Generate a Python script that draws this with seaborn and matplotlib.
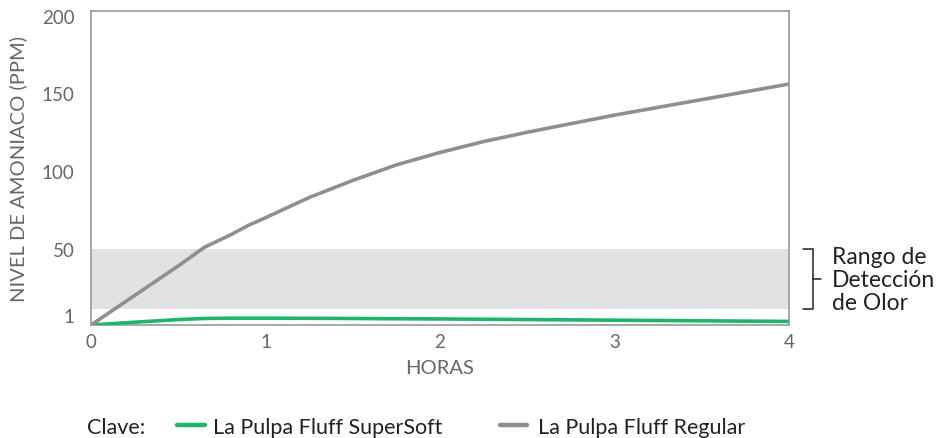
import numpy as np
import pandas as pd
import seaborn as sns
import matplotlib.pyplot as plt

# values
horas = [0, 0.25, 0.5, 0.65, 0.8, 0.9, 1.0, 1.25, 1.5, 1.75, 2.0, 2.25, 2.5, 3.0, 3.5, 4.0]
regular = [1, 20, 39, 51, 59, 65, 70, 83, 94, 104, 112, 119, 125, 136, 146, 156]
supersoft = [1, 2.8, 4.5, 5.2, 5.4, 5.4, 5.4, 5.3, 5.2, 5.0, 4.9, 4.7, 4.5, 4.1, 3.7, 3.3]
banda = [11, 50]
y_ticks = [1, 50, 100, 150, 200]
x_ticks = [0, 1, 2, 3, 4]

df = pd.DataFrame({
    "horas": horas * 2,
    "ppm": supersoft + regular,
    "serie": ["La Pulpa Fluff SuperSoft"] * len(horas) + ["La Pulpa Fluff Regular"] * len(horas),
})

sns.set_style("white")
plt.rcParams["font.family"] = ["Lato", "DejaVu Sans"]

fig = plt.figure(figsize=(9.52, 4.39), dpi=100)
ax = fig.add_axes([0.0956, 0.2574, 0.7332, 0.7153])

ax.axhspan(banda[0], banda[1], color="#e1e2e4", lw=0, zorder=0)
palette = {"La Pulpa Fluff SuperSoft": "#1db56b", "La Pulpa Fluff Regular": "#8f8f8d"}
sns.lineplot(data=df, x="horas", y="ppm", hue="serie", palette=palette,
             linewidth=2.6, ax=ax, legend=False, zorder=3)

ax.set_xlim(0, 4)
ax.set_ylim(1, 203)
ax.set_xticks(x_ticks)
ax.set_yticks(y_ticks)
ax.tick_params(axis="y", length=0, labelsize=13.5, colors="#666666", pad=12)
ax.tick_params(axis="x", length=0, labelsize=13.5, colors="#666666", pad=6)
for lbl in ax.get_yticklabels():
    if lbl.get_text() == "1":
        lbl.set_verticalalignment("bottom")
for s in ax.spines.values():
    s.set_color("#a0a0a0")
    s.set_linewidth(1.3)
ax.set_xlabel("HORAS", fontsize=14.5, color="#666666", labelpad=6)
ax.set_ylabel("NIVEL DE AMONIACO (PPM)", fontsize=14.5, color="#666666", labelpad=10)

# bracket for detection range
tr = ax.get_yaxis_transform()
b0, b1 = 1.020, 1.0344
ax.plot([b0, b1, b1, b0], [banda[1], banda[1], banda[0], banda[0]],
        transform=tr, color="#222222", lw=1.1, clip_on=False)
mid = (banda[0] + banda[1]) / 2
ax.plot([b1, b1 + 0.011], [mid, mid], transform=tr, color="#222222", lw=1.1, clip_on=False)
ax.text(1.061, mid, "Rango de\nDetección\nde Olor", transform=tr, va="center", ha="left",
        fontsize=16.5, color="#222222", linespacing=1.12)

# legend
ly = 0.026
fs = 15.5
fig.text(87 / 952, ly, "Clave:", fontsize=fs, color="#222222", va="center")
fig.lines.append(plt.Line2D([177 / 952, 205 / 952], [ly + 0.003, ly + 0.003], transform=fig.transFigure,
                            color=palette["La Pulpa Fluff SuperSoft"], lw=3.2))
fig.text(213 / 952, ly, "La Pulpa Fluff SuperSoft", fontsize=fs, color="#222222", va="center")
fig.lines.append(plt.Line2D([500 / 952, 527 / 952], [ly + 0.003, ly + 0.003], transform=fig.transFigure,
                            color=palette["La Pulpa Fluff Regular"], lw=3.2))
fig.text(538 / 952, ly, "La Pulpa Fluff Regular", fontsize=fs, color="#222222", va="center")

fig.savefig("out.png", dpi=100)
